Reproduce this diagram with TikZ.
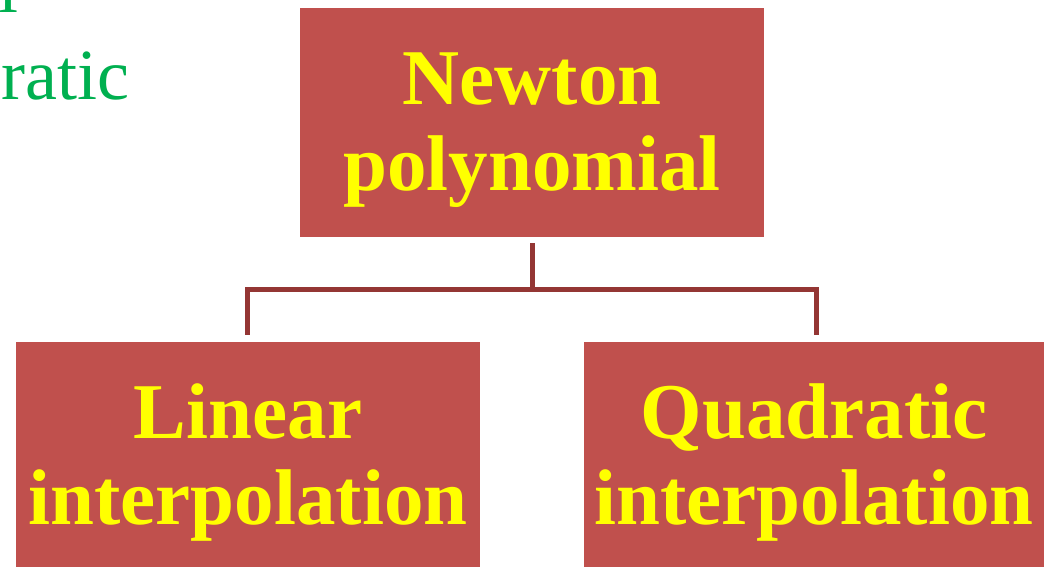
\documentclass[tikz,border=0pt]{standalone}
\usepackage{fontspec}
\setmainfont{Liberation Serif}
\definecolor{boxred}{HTML}{C0504D}
\definecolor{linered}{HTML}{943634}
\definecolor{txtyellow}{HTML}{FFFF00}
\definecolor{txtgreen}{HTML}{00B050}
\begin{document}
\begin{tikzpicture}[x=1pt,y=-1pt,
  box/.style={fill=boxred, draw=none, inner sep=0pt},
  lbl/.style={anchor=base, inner sep=0pt, text=txtyellow,
    font=\fontsize{79}{85}\selectfont\bfseries},
  green/.style={anchor=base west, inner sep=0pt, text=txtgreen,
    font=\fontsize{72}{80}\selectfont},
  conn/.style={draw=linered, line width=5pt}]
\useasboundingbox (0,0) rectangle (1044,567);
\fill[white] (0,0) rectangle (1044,567);
% partial green text at top left
\node[green] (g2) at (1,100) {ratic};
\node[green] (g1) at (-2,13) {l};
% boxes
\node[box, minimum width=464, minimum height=229] (top) at (532,122.5) {};
\node[box, minimum width=464, minimum height=225] (left) at (248,454.5) {};
\node[box, minimum width=460, minimum height=225] (right) at (814,454.5) {};
% labels
\node[lbl] (t1) at (532,105) {Newton};
\node[lbl] (t2) at (532,190) {polynomial};
\node[lbl] (l1) at (248,438) {Linear};
\node[lbl] (l2) at (248,524) {interpolation};
\node[lbl] (r1) at (814,438) {Quadratic};
\node[lbl] (r2) at (814,524) {interpolation};
% connectors
\coordinate (j) at (532,289);
\draw[conn] ([yshift=-6]top.south) -- (j);
\draw[conn] ([xshift=-1,yshift=7]left.north) |- (j) -| ([xshift=2,yshift=7]right.north);
\end{tikzpicture}
\end{document}
